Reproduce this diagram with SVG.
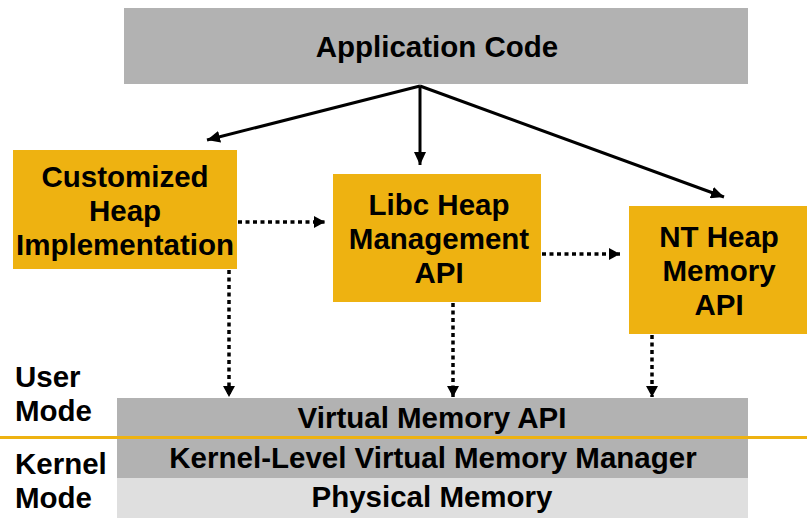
<svg xmlns="http://www.w3.org/2000/svg" width="807" height="518" viewBox="0 0 807 518">
  <style>
    .lbl { font-family: "Liberation Sans", Arial, sans-serif; font-weight: bold; font-size: 29.5px; fill: #000; }
    .mid { text-anchor: middle; }
    .box { fill: #EEB211; }
    .gray { fill: #B2B2B2; }
    .light { fill: #DFDFDF; }
    .solid { stroke: #000; stroke-width: 3; fill: none; marker-end: url(#head); }
    .dot { stroke: #000; stroke-width: 3.5; fill: none; stroke-dasharray: 4 3.5; marker-end: url(#dhead); }
  </style>
  <defs>
    <marker id="head" markerUnits="userSpaceOnUse" markerWidth="13" markerHeight="12" refX="13" refY="6" orient="auto">
      <path d="M0,0 L13,6 L0,12 z" fill="#000"/>
    </marker>
    <marker id="dhead" markerUnits="userSpaceOnUse" markerWidth="11" markerHeight="12" refX="11" refY="6" orient="auto">
      <path d="M0,0 L11,6 L0,12 z" fill="#000"/>
    </marker>
  </defs>
  <rect width="807" height="518" fill="#fff"/>

  <g id="app-code">
    <rect class="gray" x="124" y="8" width="624" height="76"/>
    <text class="lbl mid" x="437" y="57">Application Code</text>
  </g>

  <g id="custom-heap">
    <rect class="box" x="13" y="150" width="224" height="119"/>
    <text class="lbl mid" x="125" y="187">Customized</text>
    <text class="lbl mid" x="125" y="221">Heap</text>
    <text class="lbl mid" x="125" y="255">Implementation</text>
  </g>

  <g id="libc-heap">
    <rect class="box" x="333" y="174" width="208" height="128"/>
    <text class="lbl mid" x="439" y="215">Libc Heap</text>
    <text class="lbl mid" x="439" y="249">Management</text>
    <text class="lbl mid" x="439" y="283">API</text>
  </g>

  <g id="nt-heap">
    <rect class="box" x="629" y="206" width="178" height="128"/>
    <text class="lbl mid" x="719" y="247">NT Heap</text>
    <text class="lbl mid" x="719" y="281">Memory</text>
    <text class="lbl mid" x="719" y="315">API</text>
  </g>

  <g id="virtual-memory-api">
    <rect class="gray" x="117" y="398" width="631" height="40"/>
    <text class="lbl mid" x="432" y="428">Virtual Memory API</text>
  </g>

  <g id="kernel-vmm">
    <rect class="gray" x="117" y="438" width="631" height="40"/>
    <text class="lbl mid" x="433" y="468">Kernel-Level Virtual Memory Manager</text>
  </g>

  <g id="physical-memory">
    <rect class="light" x="117" y="478" width="631" height="40"/>
    <text class="lbl mid" x="432" y="507">Physical Memory</text>
  </g>

  <g id="mode-labels">
    <text class="lbl" x="15" y="387">User</text>
    <text class="lbl" x="15" y="421">Mode</text>
    <text class="lbl" x="15" y="474">Kernel</text>
    <text class="lbl" x="15" y="508">Mode</text>
  </g>

  <!-- user / kernel boundary -->
  <line x1="0" y1="437.5" x2="807" y2="437.5" stroke="#EEB211" stroke-width="3"/>

  <g id="connectors">
    <line class="solid" x1="420" y1="86" x2="207" y2="140"/>
    <line class="solid" x1="420" y1="86" x2="420" y2="165"/>
    <line class="solid" x1="420" y1="86" x2="724" y2="197"/>
    <line class="dot" x1="238" y1="222" x2="325" y2="222"/>
    <line class="dot" x1="542" y1="254" x2="620" y2="254"/>
    <line class="dot" x1="229" y1="270" x2="229" y2="397"/>
    <line class="dot" x1="453" y1="303" x2="453" y2="397"/>
    <line class="dot" x1="652" y1="335" x2="652" y2="397"/>
  </g>
</svg>
